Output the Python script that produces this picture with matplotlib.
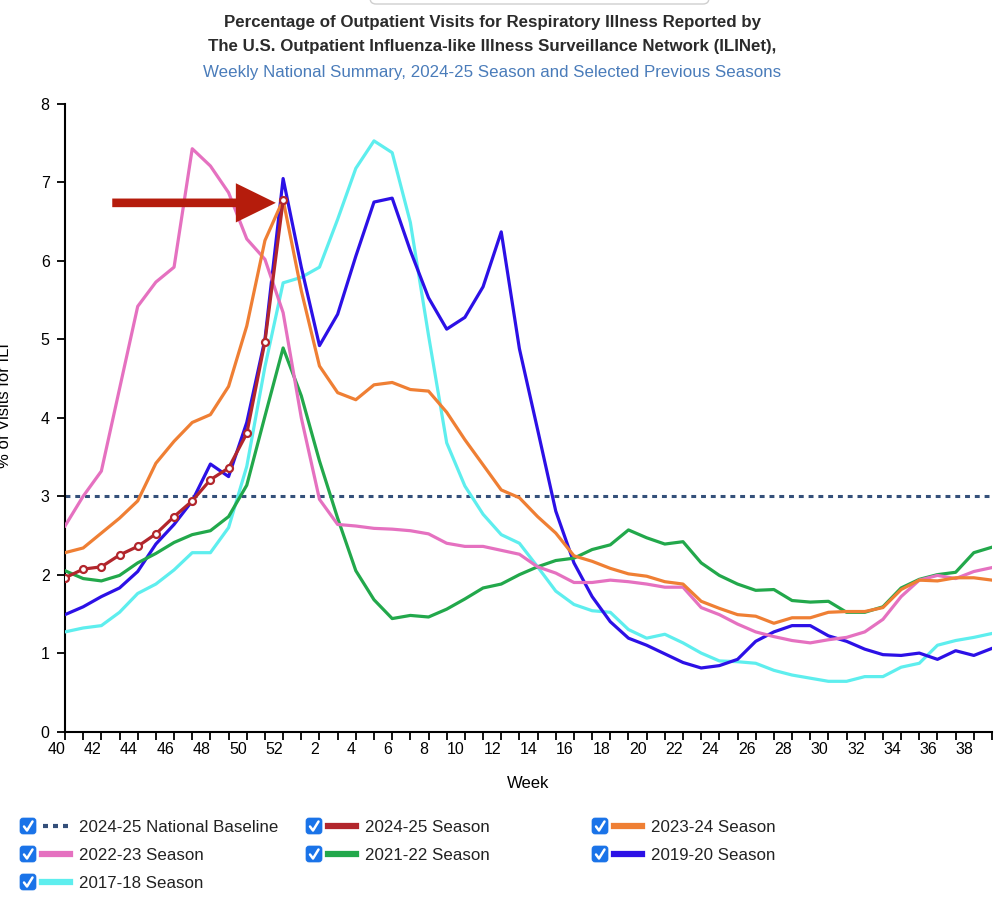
import matplotlib
matplotlib.use('Agg')
import matplotlib.pyplot as plt
from matplotlib.patches import FancyBboxPatch, FancyArrow
from matplotlib.lines import Line2D

plt.rcParams['font.family'] = ['Liberation Sans', 'DejaVu Sans']

# week numbers of the season (week 40 .. week 39)
weeks = list(range(40, 53)) + list(range(1, 40))
tick_labels = [str(w) if w % 2 == 0 else '' for w in weeks]

baseline = 3.0

s2024_25 = [1.96, 2.07, 2.10, 2.25, 2.36, 2.52, 2.74, 2.94, 3.21, 3.36, 3.80, 4.97, 6.77]

s2023_24 = [2.28, 2.34, 2.53, 2.72, 2.94, 3.42, 3.70, 3.94, 4.04, 4.40, 5.17, 6.26, 6.78,
            5.62, 4.66, 4.32, 4.23, 4.42, 4.45, 4.36, 4.34, 4.07, 3.72, 3.40, 3.08,
            2.98, 2.74, 2.53, 2.24, 2.17, 2.08, 2.01, 1.98, 1.91, 1.88,
            1.66, 1.57, 1.49, 1.47, 1.38, 1.45, 1.45, 1.52, 1.53, 1.53, 1.58, 1.81,
            1.93, 1.92, 1.96, 1.96, 1.93]

s2022_23 = [2.62, 3.00, 3.32, 4.37, 5.42, 5.73, 5.92, 7.43, 7.21, 6.87, 6.28, 6.02, 5.34,
            4.00, 2.96, 2.64, 2.62, 2.59, 2.58, 2.56, 2.52, 2.40, 2.36, 2.36, 2.31,
            2.26, 2.10, 2.02, 1.90, 1.90, 1.93, 1.91, 1.88, 1.84, 1.84,
            1.58, 1.49, 1.37, 1.27, 1.21, 1.16, 1.13, 1.17, 1.20, 1.27, 1.43, 1.72,
            1.93, 1.99, 1.95, 2.04, 2.09]

s2021_22 = [2.05, 1.95, 1.92, 1.99, 2.15, 2.27, 2.41, 2.51, 2.56, 2.74, 3.14, 4.02, 4.89,
            4.28, 3.45, 2.72, 2.05, 1.68, 1.44, 1.48, 1.46, 1.56, 1.69, 1.83, 1.88,
            2.00, 2.10, 2.18, 2.21, 2.32, 2.38, 2.57, 2.47, 2.39, 2.42,
            2.15, 1.99, 1.88, 1.80, 1.81, 1.67, 1.65, 1.66, 1.52, 1.52, 1.59, 1.83,
            1.94, 2.00, 2.03, 2.28, 2.35]

s2019_20 = [1.49, 1.59, 1.72, 1.83, 2.04, 2.39, 2.64, 2.94, 3.41, 3.25, 3.94, 5.00, 7.05,
            5.92, 4.92, 5.32, 6.06, 6.75, 6.80, 6.13, 5.53, 5.13, 5.28, 5.67, 6.37,
            4.88, 3.85, 2.81, 2.15, 1.72, 1.40, 1.19, 1.10, 0.99, 0.88,
            0.81, 0.84, 0.92, 1.15, 1.27, 1.35, 1.35, 1.22, 1.15, 1.05, 0.98, 0.97,
            1.00, 0.92, 1.03, 0.97, 1.06]

s2017_18 = [1.27, 1.32, 1.35, 1.52, 1.76, 1.88, 2.06, 2.28, 2.28, 2.60, 3.38, 4.65, 5.72,
            5.79, 5.92, 6.53, 7.18, 7.53, 7.38, 6.49, 5.05, 3.68, 3.13, 2.77, 2.51,
            2.40, 2.10, 1.79, 1.62, 1.54, 1.52, 1.30, 1.19, 1.24, 1.13,
            1.00, 0.90, 0.89, 0.87, 0.78, 0.72, 0.68, 0.64, 0.64, 0.70, 0.70, 0.82,
            0.87, 1.10, 1.16, 1.20, 1.25]

legend_labels = ['2024-25 National Baseline', '2024-25 Season', '2023-24 Season',
                 '2022-23 Season', '2021-22 Season', '2019-20 Season', '2017-18 Season']
colors = ['#34507a', '#b2262c', '#ef7f34', '#e571c0', '#22a84b', '#2c10e6', '#5eeeee']

fig = plt.figure(figsize=(10, 8.99), dpi=100)
ax = fig.add_axes([0.065, 0.1863, 0.927, 0.698])

x = list(range(len(weeks)))
lw = 2.3
ax.plot(x, s2017_18, color=colors[6], lw=lw, zorder=3)
ax.plot(x, s2019_20, color=colors[5], lw=lw, zorder=3)
ax.plot(x, s2021_22, color=colors[4], lw=lw, zorder=3)
ax.plot(x, s2022_23, color=colors[3], lw=lw, zorder=3)
ax.plot(x, s2023_24, color=colors[2], lw=lw, zorder=3)
ax.plot(x[:len(s2024_25)], s2024_25, color=colors[1], lw=lw, zorder=4,
        marker='o', ms=5, mfc='white', mec=colors[1], mew=1.6)
ax.axhline(baseline, color=colors[0], lw=2.2, ls=(0, (1.6, 1.6)), zorder=2)

# annotation arrow pointing at the latest week
ax.add_patch(FancyArrow(2.6, 6.74, 9.0, 0, width=0.11, head_width=0.5,
                        head_length=2.2, length_includes_head=True,
                        color='#b51c0c', lw=0, zorder=5))

ax.set_xlim(0, len(weeks) - 1)
ax.set_ylim(0, 8)
ax.set_yticks(range(0, 9))
ax.set_xticks(x)
ax.set_xticklabels(tick_labels, ha='right')
ax.tick_params(axis='both', length=6, width=1.3, labelsize=11.5, color='black')
ax.tick_params(axis='x', pad=1.5)
ax.tick_params(axis='y', pad=5)
for s in ['top', 'right']:
    ax.spines[s].set_visible(False)
for s in ['left', 'bottom']:
    ax.spines[s].set_linewidth(1.5)

ax.set_xlabel('Week', fontsize=12, labelpad=14)
fig.text(0.005, 1 - 405 / 899, '% of Visits for ILI', rotation=90, fontsize=12,
         ha='center', va='center')

# titles
fig.text(0.492, 1 - 22 / 899, 'Percentage of Outpatient Visits for Respiratory Illness Reported by',
         ha='center', va='center', fontsize=12.2, fontweight='bold', color='#2b2b2b')
fig.text(0.492, 1 - 47 / 899, 'The U.S. Outpatient Influenza-like Illness Surveillance Network (ILINet),',
         ha='center', va='center', fontsize=12.2, fontweight='bold', color='#2b2b2b')
fig.text(0.492, 1 - 72 / 899, 'Weekly National Summary, 2024-25 Season and Selected Previous Seasons',
         ha='center', va='center', fontsize=12.2, color='#4a7cba')

# overlay in pixel coords for legend and decorations
ov = fig.add_axes([0, 0, 1, 1], zorder=10)
ov.set_xlim(0, 1000)
ov.set_ylim(899, 0)
ov.axis('off')

ov.add_patch(FancyBboxPatch((370, -30), 339, 34, boxstyle='round,pad=0,rounding_size=6',
                            fc='white', ec='#cfcfcf', lw=1))

col_x = [20, 306, 592]
row_y = [826, 854, 882]
for i, lab in enumerate(legend_labels):
    cx = col_x[i % 3]
    cy = row_y[i // 3]
    ov.add_patch(FancyBboxPatch((cx, cy - 8), 16, 16, boxstyle='round,pad=0,rounding_size=3',
                                fc='#1a73e8', ec='#1a73e8', lw=0.5))
    ov.add_line(Line2D([cx + 4, cx + 7, cx + 12.5], [cy + 0.5, cy + 4.5, cy - 4.5],
                       color='white', lw=1.8, solid_capstyle='round'))
    if i == 0:
        ov.add_line(Line2D([cx + 23, cx + 50], [cy, cy], color=colors[i], lw=3,
                           ls=(0, (1.2, 1.2))))
    else:
        ov.add_line(Line2D([cx + 22, cx + 50], [cy, cy], color=colors[i], lw=4.5))
    ov.text(cx + 59, cy + 1, lab, fontsize=12.2, va='center', ha='left', color='#222222')

fig.savefig('out.png', dpi=100, facecolor='white')
